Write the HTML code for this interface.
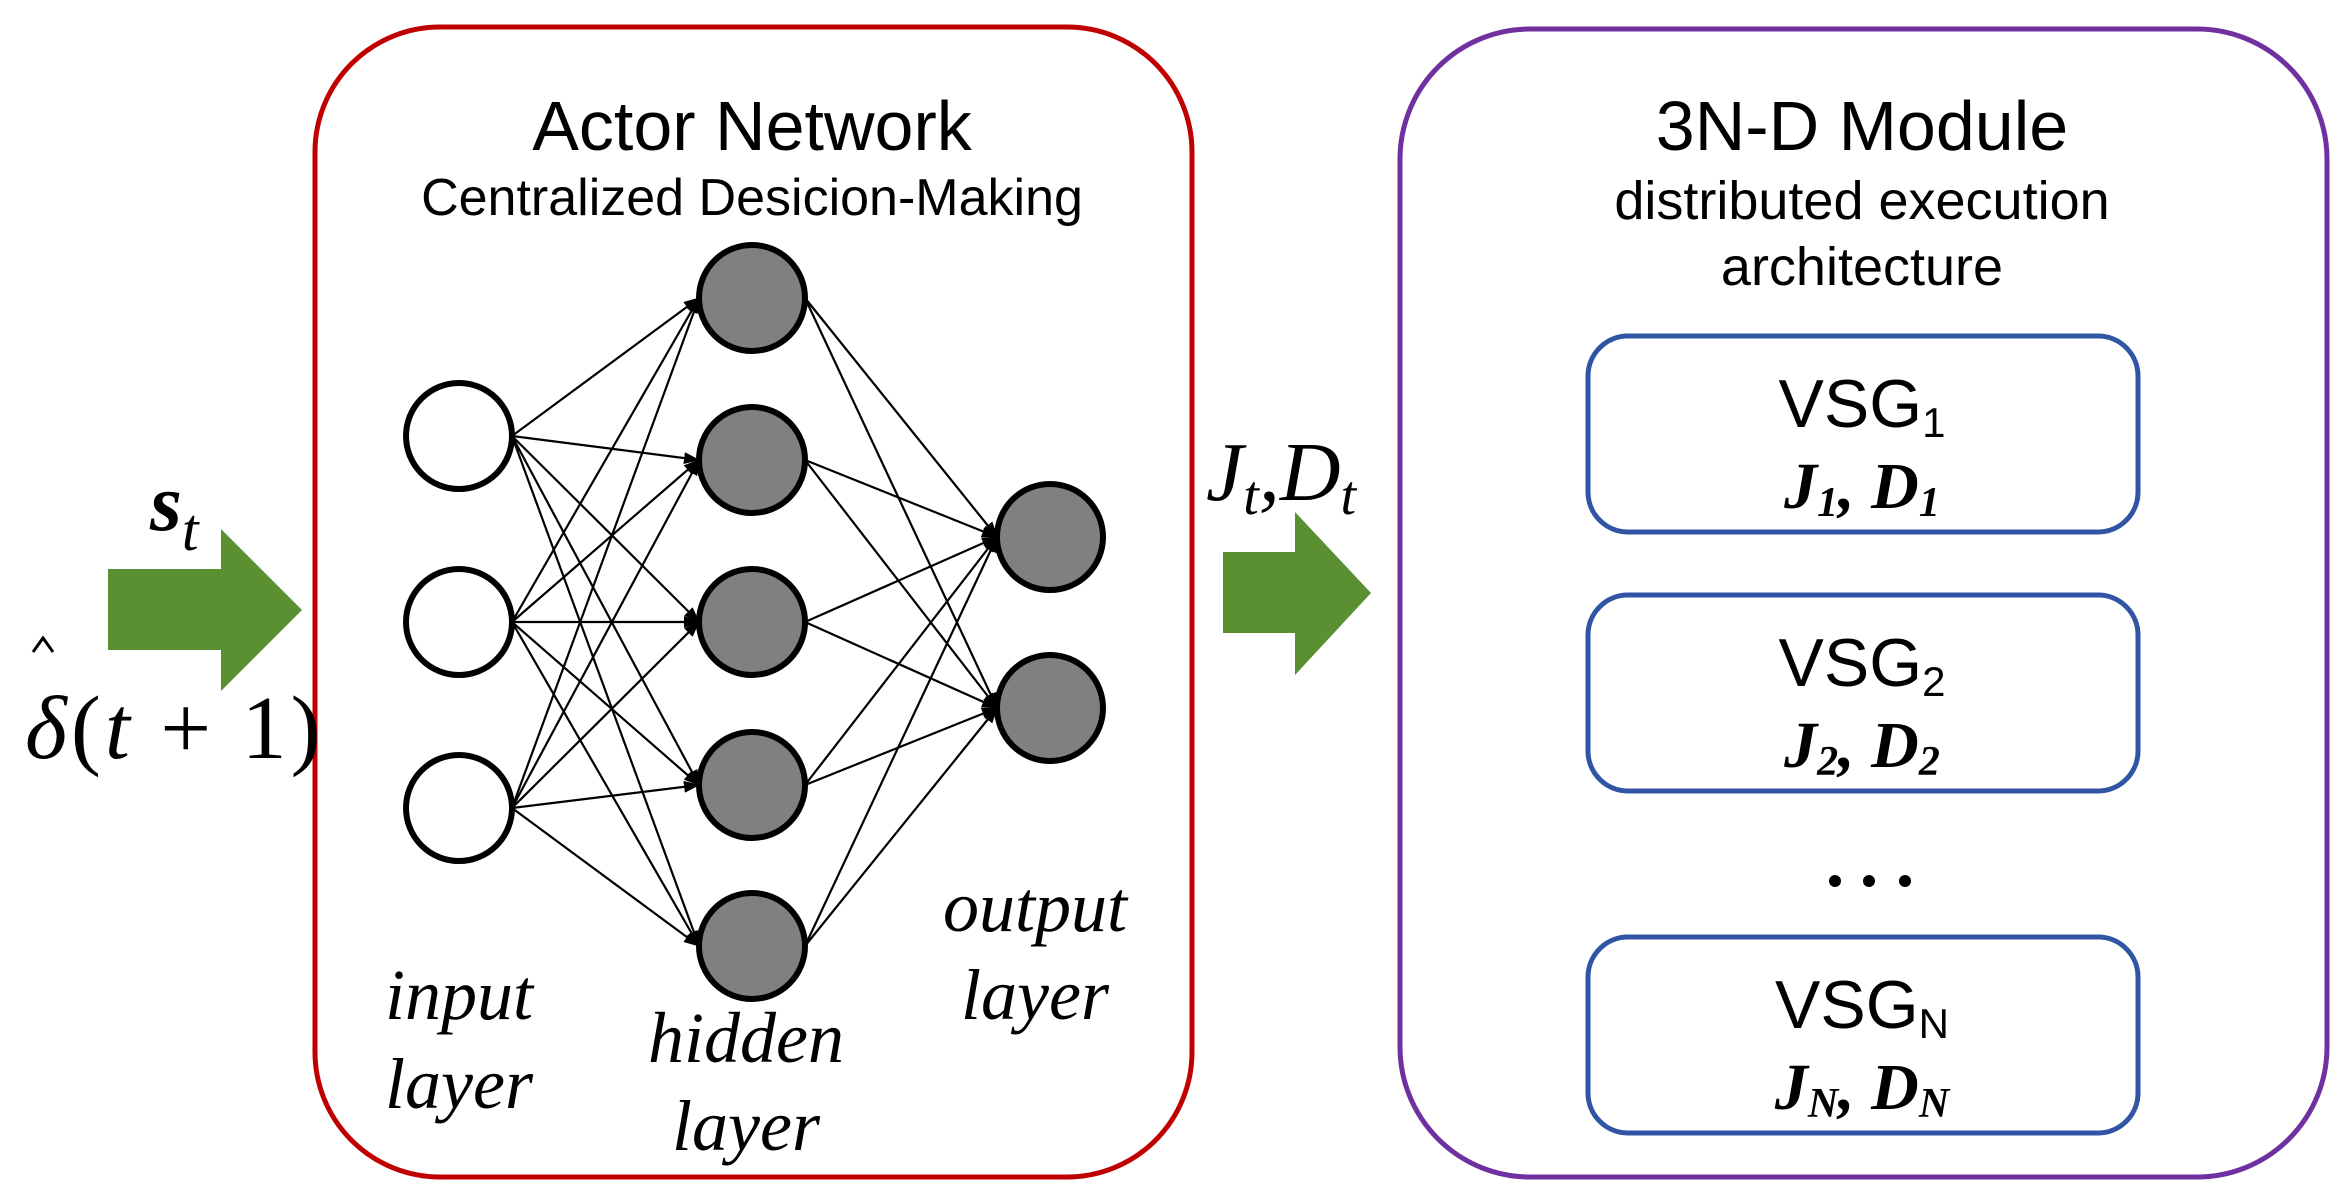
<!DOCTYPE html>
<html><head><meta charset="utf-8"><style>
html,body{margin:0;padding:0;background:#fff;}
svg{display:block;}
.sans{font-family:"Liberation Sans",sans-serif;}
.ser{font-family:"Liberation Serif",serif;}
</style></head><body>
<svg width="2345" height="1201" viewBox="0 0 2345 1201" xmlns="http://www.w3.org/2000/svg">
<defs>
<marker id="ah" markerWidth="16" markerHeight="12" refX="15" refY="6" orient="auto" markerUnits="userSpaceOnUse">
<path d="M0,0 L16,6 L0,12 z" fill="#000"/>
</marker>
</defs>
<rect x="315" y="27" width="877" height="1150" rx="125" fill="none" stroke="#c00000" stroke-width="5"/>
<rect x="1400" y="29" width="927" height="1148" rx="130" fill="none" stroke="#7030a0" stroke-width="5"/>

<text x="752" y="150" class="sans" font-size="70" text-anchor="middle">Actor Network</text>
<text x="752" y="215" class="sans" font-size="52" text-anchor="middle">Centralized Desicion-Making</text>

<g stroke="#000" stroke-width="2.2" marker-end="url(#ah)">
<line x1="512" y1="436" x2="699" y2="298"/><line x1="512" y1="436" x2="699" y2="460"/><line x1="512" y1="436" x2="699" y2="622"/><line x1="512" y1="436" x2="699" y2="785"/><line x1="512" y1="436" x2="699" y2="946"/>
<line x1="512" y1="622" x2="699" y2="298"/><line x1="512" y1="622" x2="699" y2="460"/><line x1="512" y1="622" x2="699" y2="622"/><line x1="512" y1="622" x2="699" y2="785"/><line x1="512" y1="622" x2="699" y2="946"/>
<line x1="512" y1="808" x2="699" y2="298"/><line x1="512" y1="808" x2="699" y2="460"/><line x1="512" y1="808" x2="699" y2="622"/><line x1="512" y1="808" x2="699" y2="785"/><line x1="512" y1="808" x2="699" y2="946"/>
<line x1="805" y1="298" x2="997" y2="537"/><line x1="805" y1="298" x2="997" y2="708"/>
<line x1="805" y1="460" x2="997" y2="537"/><line x1="805" y1="460" x2="997" y2="708"/>
<line x1="805" y1="622" x2="997" y2="537"/><line x1="805" y1="622" x2="997" y2="708"/>
<line x1="805" y1="785" x2="997" y2="537"/><line x1="805" y1="785" x2="997" y2="708"/>
<line x1="805" y1="946" x2="997" y2="537"/><line x1="805" y1="946" x2="997" y2="708"/>
</g>

<g stroke="#000" stroke-width="6" fill="#fff">
<circle cx="459" cy="436" r="53"/><circle cx="459" cy="622" r="53"/><circle cx="459" cy="808" r="53"/>
</g>
<g stroke="#000" stroke-width="6" fill="#808080">
<circle cx="752" cy="298" r="53"/><circle cx="752" cy="460" r="53"/><circle cx="752" cy="622" r="53"/><circle cx="752" cy="785" r="53"/><circle cx="752" cy="946" r="53"/>
<circle cx="1050" cy="537" r="53"/><circle cx="1050" cy="708" r="53"/>
</g>

<g class="ser" font-style="italic" font-size="72" text-anchor="middle">
<text x="459" y="1019">input</text><text x="459" y="1108">layer</text>
<text x="746" y="1062">hidden</text><text x="746" y="1150">layer</text>
<text x="1035" y="931">output</text><text x="1035" y="1019">layer</text>
</g>

<polygon points="108,569 221,569 221,529 302,610 221,691 221,650 108,650" fill="#5a8f32"/>
<polygon points="1223,552 1295,552 1295,512 1371,593 1295,675 1295,633 1223,633" fill="#5a8f32"/>

<text x="150" y="530" class="ser" font-style="italic" font-weight="bold" font-size="82">s<tspan font-size="60" dy="20" font-weight="normal">t</tspan></text>
<text x="25" y="758" class="ser" font-size="90" letter-spacing="4"><tspan font-style="italic">δ</tspan>(<tspan font-style="italic">t</tspan> + 1)</text>
<path d="M33,652 L43,638 L53,652" fill="none" stroke="#000" stroke-width="3"/>
<text x="1206" y="500" class="ser" font-style="italic" font-size="84">J<tspan font-size="56" dy="14">t</tspan><tspan dy="-14">,D</tspan><tspan font-size="56" dy="14">t</tspan></text>

<text x="1862" y="150" class="sans" font-size="70" text-anchor="middle">3N-D Module</text>
<text x="1862" y="219" class="sans" font-size="54" text-anchor="middle">distributed execution</text>
<text x="1862" y="285" class="sans" font-size="54" text-anchor="middle">architecture</text>

<g fill="none" stroke="#2f55a4" stroke-width="5">
<rect x="1588" y="336" width="550" height="196" rx="40"/>
<rect x="1588" y="595" width="550" height="196" rx="40"/>
<rect x="1588" y="937" width="550" height="196" rx="40"/>
</g>
<g class="sans" font-size="68" text-anchor="middle">
<text x="1862" y="427">VSG<tspan font-size="42" dy="10">1</tspan></text>
<text x="1862" y="686">VSG<tspan font-size="42" dy="10">2</tspan></text>
<text x="1862" y="1028">VSG<tspan font-size="42" dy="10">N</tspan></text>
</g>
<g class="ser" font-style="italic" font-weight="bold" font-size="66" text-anchor="middle">
<text x="1862" y="508">J<tspan font-size="42" dy="8">1</tspan><tspan dy="-8">, D</tspan><tspan font-size="42" dy="8">1</tspan></text>
<text x="1862" y="767">J<tspan font-size="42" dy="8">2</tspan><tspan dy="-8">, D</tspan><tspan font-size="42" dy="8">2</tspan></text>
<text x="1862" y="1109">J<tspan font-size="42" dy="8">N</tspan><tspan dy="-8">, D</tspan><tspan font-size="42" dy="8">N</tspan></text>
</g>
<g fill="#000"><circle cx="1835" cy="881" r="6"/><circle cx="1869" cy="881" r="6"/><circle cx="1905" cy="881" r="6"/></g>
</svg>
</body></html>
